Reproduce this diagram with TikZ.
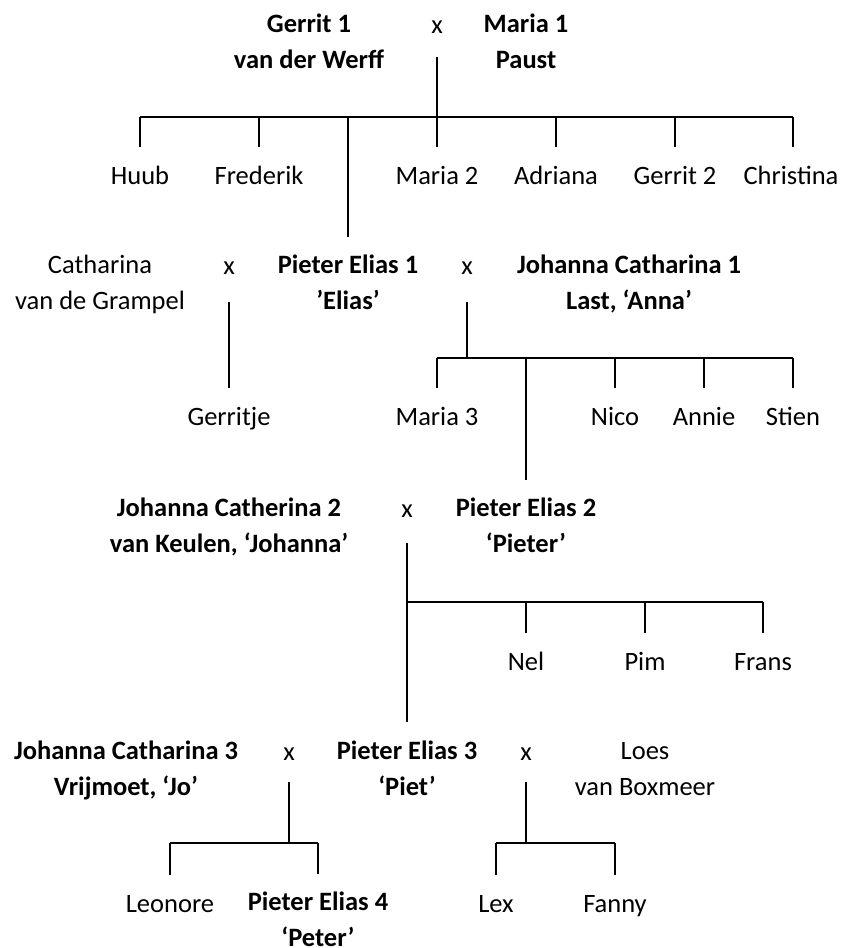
\documentclass[tikz,border=0pt]{standalone}
\usepackage{fontspec}
\setmainfont{Carlito}
\newcommand{\twoline}[2]{\begin{tabular}{@{}c@{}}#1\\#2\end{tabular}}
\begin{document}
\begin{tikzpicture}[x=1pt,y=-1pt,
  person/.style={inner sep=0pt, font=\fontsize{26.5}{36}\selectfont},
  bperson/.style={inner sep=0pt, font=\fontsize{26.5}{36}\selectfont\bfseries},
  link/.style={line width=2pt},
  up/.style={yshift=12pt}
]
\useasboundingbox (0,0) rectangle (842,948);

% generation 1
\node[bperson] (gerrit1) at (309,43.5) {\twoline{Gerrit 1}{van der Werff}};
\node[person] (x0) at (437,26) {\strut x};
\node[bperson] (maria1) at (526,43.5) {\twoline{Maria 1}{Paust}};

\node[person] (huub) at (140,177) {\strut Huub};
\node[person] (frederik) at (259,177) {\strut Frederik};
\node[person] (maria2) at (437,177) {\strut Maria 2};
\node[person] (adriana) at (556,177) {\strut Adriana};
\node[person] (gerrit2) at (675,177) {\strut Gerrit 2};
\node[person] (christina) at (791,177) {\strut Christina};

% generation 2
\node[person] (catharina) at (100,284.5) {\twoline{Catharina}{van de Grampel}};
\node[person] (x1) at (229,267) {\strut x};
\node[bperson] (pieter1) at (348,284.5) {\twoline{Pieter Elias 1}{’Elias’}};
\node[person] (x2) at (467,267) {\strut x};
\node[bperson] (johanna1) at (629,284.5) {\twoline{Johanna Catharina 1}{Last, ‘Anna’}};

\node[person] (gerritje) at (229,418) {\strut Gerritje};
\node[person] (maria3) at (437,418) {\strut Maria 3};
\node[person] (nico) at (615,418) {\strut Nico};
\node[person] (annie) at (704,418) {\strut Annie};
\node[person] (stien) at (793,418) {\strut Stien};

% generation 3
\node[bperson] (johanna2) at (229,527.5) {\twoline{Johanna Catherina 2}{van Keulen, ‘Johanna’}};
\node[person] (x3) at (407,510) {\strut x};
\node[bperson] (pieter2) at (526,527.5) {\twoline{Pieter Elias 2}{‘Pieter’}};

\node[person] (nel) at (526,663) {\strut Nel};
\node[person] (pim) at (645,663) {\strut Pim};
\node[person] (frans) at (763,663) {\strut Frans};

% generation 4
\node[bperson] (johanna3) at (126,770) {\twoline{Johanna Catharina 3}{Vrijmoet, ‘Jo’}};
\node[person] (x4) at (289,753) {\strut x};
\node[bperson] (pieter3) at (407,770) {\twoline{Pieter Elias 3}{‘Piet’}};
\node[person] (x5) at (526,753) {\strut x};
\node[person] (loes) at (645,770) {\twoline{Loes}{van Boxmeer}};

\node[person] (leonore) at (170,905) {\strut Leonore};
\node[bperson] (pieter4) at (318,921.5) {\twoline{Pieter Elias 4}{‘Peter’}};
\node[person] (lex) at (496,905) {\strut Lex};
\node[person] (fanny) at (615,905) {\strut Fanny};

% family 1
\coordinate (f1) at (437,57);
\coordinate (f1L) at (140,117);
\coordinate (f1R) at (793,117);
\draw[link] (f1) -- (f1 |- f1L);
\draw[link] (f1L) -- (f1R);
\foreach \c in {huub,frederik,maria2,adriana,gerrit2}
  \draw[link] (\c.north |- f1L) -- ([up]\c.north);
\draw[link] (f1R) -- ([up]christina.north -| f1R);
\draw[link] (pieter1.north |- f1L) -- ([yshift=11pt]pieter1.north);

% family 2
\coordinate (f2) at (229,302);
\draw[link] (f2) -- ([up]gerritje.north);

% family 3
\coordinate (f3) at (467,302);
\coordinate (f3L) at (437,358);
\coordinate (f3R) at (793,358);
\draw[link] (f3) -- (f3 |- f3L);
\draw[link] (f3L) -- (f3R);
\foreach \c in {maria3,nico,annie,stien}
  \draw[link] (\c.north |- f3L) -- ([up]\c.north);
\draw[link] (pieter2.north |- f3L) -- ([yshift=11.5pt]pieter2.north);

% family 4
\coordinate (f4) at (407,543);
\coordinate (f4R) at (763,602);
\draw[link] (f4) -- ([up]pieter3.north);
\draw[link] (f4 |- f4R) -- (f4R);
\foreach \c in {nel,pim,frans}
  \draw[link] (\c.north |- f4R) -- ([up]\c.north);

% family 5
\coordinate (f5) at (289,782);
\coordinate (f5L) at (170,843);
\coordinate (f5R) at (318,843);
\draw[link] (f5) -- (f5 |- f5L);
\draw[link] (f5L) -- (f5R);
\draw[link] (f5L) -- ([up]leonore.north);
\draw[link] (f5R) -- ([yshift=11.5pt]pieter4.north);

% family 6
\coordinate (f6) at (526,782);
\coordinate (f6L) at (496,843);
\coordinate (f6R) at (615,843);
\draw[link] (f6) -- (f6 |- f6L);
\draw[link] (f6L) -- (f6R);
\draw[link] (f6L) -- ([up]lex.north);
\draw[link] (f6R) -- ([up]fanny.north);
\end{tikzpicture}
\end{document}
